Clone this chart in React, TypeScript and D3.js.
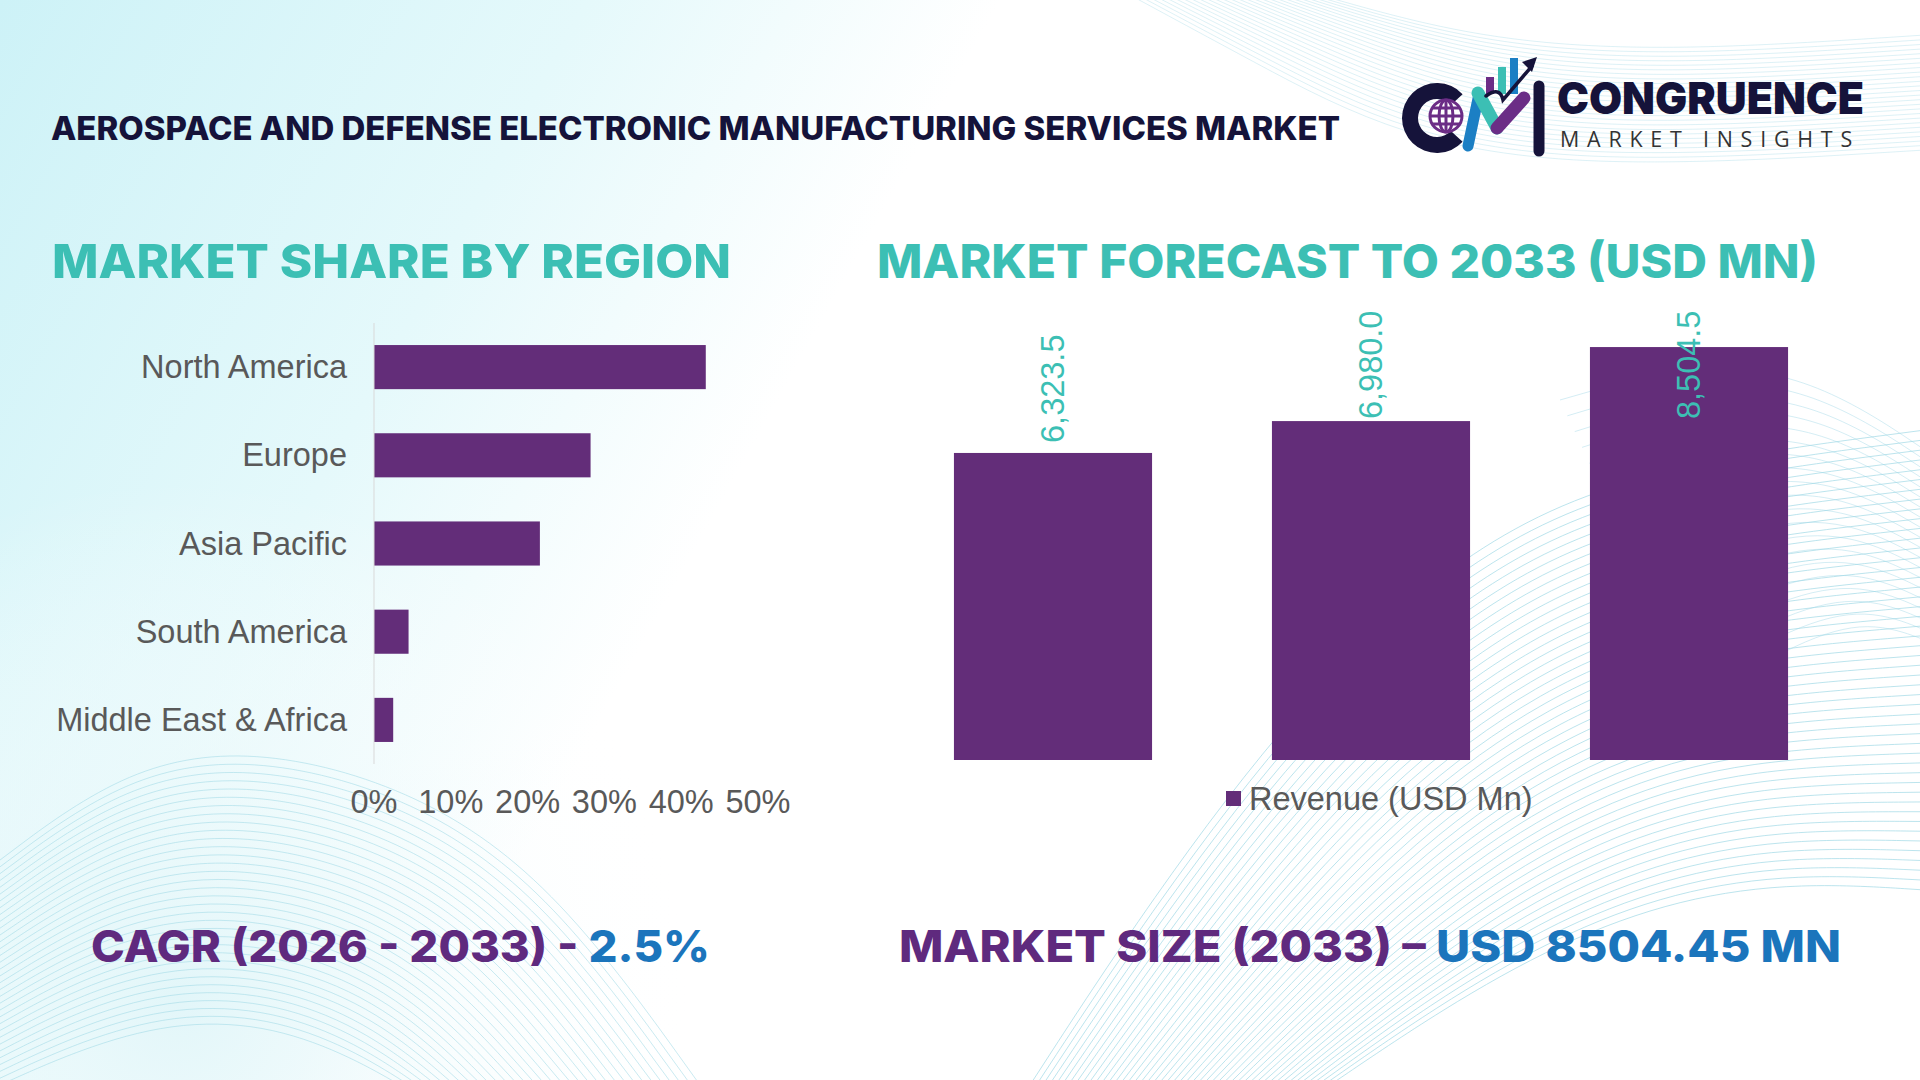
import React from "react";
import * as d3 from "d3";

// chart values
const regions = ["North America", "Europe", "Asia Pacific", "South America", "Middle East & Africa"];
const regionShare = [43.2, 28.2, 21.6, 4.5, 2.5];
const shareTicks = [0, 10, 20, 30, 40, 50];

const forecastYears = ["2025", "2026", "2033"];
const forecastRevenue = [6323.5, 6980.0, 8504.5];

const PURPLE = "#632d79";
const TEAL = "#3cbfb4";
const GRAY = "#595959";
const TITLE_PURPLE = "#5f2a7e";
const TITLE_BLUE = "#1b75bc";
const NAVY = "#15133a";

const W = 1920;
const H = 1080;

// decorative wave mesh: lines blended between two guide polylines
const waveFamilies = [
  {
    a: [[0, 860], [120, 770], [250, 745], [420, 790], [560, 890], [700, 1085]],
    b: [[0, 1085], [100, 1040], [220, 1010], [330, 1045], [400, 1085]],
    n: 34,
    op: 0.55,
  },
  {
    a: [[1030, 1085], [1150, 900], [1300, 700], [1450, 560], [1620, 470], [1925, 430]],
    b: [[1330, 1085], [1470, 990], [1620, 910], [1770, 880], [1925, 890]],
    n: 48,
    op: 0.7,
  },
  {
    a: [[1130, -5], [1250, 60], [1400, 140], [1600, 170], [1925, 150]],
    b: [[1320, -5], [1460, 35], [1620, 55], [1925, 35]],
    n: 26,
    op: 0.35,
  },
  {
    a: [[1560, 400], [1700, 360], [1820, 380], [1925, 450]],
    b: [[1700, 700], [1800, 640], [1870, 620], [1925, 640]],
    n: 20,
    op: 0.45,
  },
];

const blend = (a: number[][], b: number[][], t: number) => {
  const n = Math.max(a.length, b.length);
  const sa = d3.scaleLinear().domain([0, n - 1]).range([0, a.length - 1]);
  const sb = d3.scaleLinear().domain([0, n - 1]).range([0, b.length - 1]);
  const at = (arr: number[][], f: number) => {
    const i = Math.min(Math.floor(f), arr.length - 2);
    const r = f - i;
    return [arr[i][0] + (arr[i + 1][0] - arr[i][0]) * r, arr[i][1] + (arr[i + 1][1] - arr[i][1]) * r];
  };
  const pts = [];
  for (let j = 0; j < n; j++) {
    const p = at(a, sa(j));
    const q = at(b, sb(j));
    pts.push([p[0] + (q[0] - p[0]) * t, p[1] + (q[1] - p[1]) * t]);
  }
  return pts;
};

const Waves = () => {
  const line = d3.line().curve(d3.curveBasis);
  return (
    <g fill="none" stroke="#9fd8e6" strokeWidth={1}>
      {waveFamilies.map((f, fi) =>
        d3.range(f.n).map((i) => (
          <path key={fi + "-" + i} d={line(blend(f.a, f.b, i / (f.n - 1)) as any) || ""} opacity={f.op} />
        ))
      )}
    </g>
  );
};

const Logo = () => (
  <g>
    {/* C ring */}
    <path
      d={d3.arc()({ innerRadius: 19, outerRadius: 35, startAngle: 0.75, endAngle: Math.PI * 2 - 0.75 }) || ""}
      transform="translate(1437,118) rotate(90)"
      fill={NAVY}
    />
    {/* globe */}
    <g transform="translate(1446,116)" fill="none" stroke="#6b2d86" strokeWidth={3}>
      <circle r={16} fill="#ffffff" />
      <ellipse rx={7} ry={16} />
      <line x1={0} y1={-16} x2={0} y2={16} />
      <line x1={-16} y1={0} x2={16} y2={0} />
      <line x1={-14} y1={-8} x2={14} y2={-8} />
      <line x1={-14} y1={8} x2={14} y2={8} />
    </g>
    {/* bars */}
    <rect x={1486} y={77} width={8} height={17} fill="#6b2d86" />
    <rect x={1498} y={67} width={8} height={27} fill={TEAL} />
    <rect x={1510} y={58} width={8} height={36} fill="#1b7fc4" />
    {/* M */}
    <g strokeLinecap="round" fill="none">
      <line x1={1468} y1={146} x2={1479} y2={94} stroke="#1b7fc4" strokeWidth={11} />
      <line x1={1478} y1={93} x2={1497} y2={128} stroke={TEAL} strokeWidth={13} />
      <line x1={1497} y1={128} x2={1524} y2={98} stroke="#6b2d86" strokeWidth={13} />
      <line x1={1539} y1={86} x2={1539} y2={151} stroke={NAVY} strokeWidth={11} />
      <path d="M1486,96 Q1500,86 1503,100 L1532,66" stroke={NAVY} strokeWidth={3.5} />
    </g>
    <path d="M1537,57 L1522,62 L1532,72 Z" fill={NAVY} />
    <text
      x={1557}
      y={114}
      fontFamily="Inter, 'Open Sans', sans-serif"
      fontWeight={900}
      fontSize={44}
      fill={NAVY}
      textLength={307}
      lengthAdjust="spacingAndGlyphs"
    >
      CONGRUENCE
    </text>
    <text
      x={1560}
      y={147}
      fontFamily="'Open Sans', sans-serif"
      fontSize={22}
      fill="#333333"
      letterSpacing={8}
      textLength={300}
      lengthAdjust="spacingAndGlyphs"
    >
      MARKET INSIGHTS
    </text>
  </g>
);

export default function App() {
  // left: market share by region
  const xShare = d3.scaleLinear().domain([0, 50]).range([374, 758]);
  const yRegion = d3.scaleBand().domain(regions).range([323, 764]).paddingInner(0.5).paddingOuter(0.25);

  // right: forecast bars
  const xYear = d3.scaleBand().domain(forecastYears).range([894, 1848]).paddingInner(0.377).paddingOuter(0.1885);
  const yRev = d3.scaleLinear().domain([0, 9000]).range([760, 323]);
  const fmt = d3.format(",.1f");
  const labelLen = 108;
  const labelTop = 311;

  const headFont = "Inter, 'Open Sans', sans-serif";
  const bodyFont = "'Liberation Sans', Arial, sans-serif";
  const bodySize = 32.5;

  return (
    <svg
      width={W}
      height={H}
      viewBox={`0 0 ${W} ${H}`}
      style={{ position: "absolute", left: 0, top: 0, display: "block" }}
    >
      <defs>
        <linearGradient id="bg" x1="0" y1="0" x2="900" y2="500" gradientUnits="userSpaceOnUse">
          <stop offset="0" stopColor="#cdf2f7" />
          <stop offset="0.5" stopColor="#e5f9fb" />
          <stop offset="0.85" stopColor="#ffffff" />
        </linearGradient>
        <radialGradient id="bl" cx="180" cy="1000" r="520" gradientUnits="userSpaceOnUse">
          <stop offset="0" stopColor="#e2f6f9" />
          <stop offset="1" stopColor="#ffffff" stopOpacity="0" />
        </radialGradient>
      </defs>
      <rect width={W} height={H} fill="#ffffff" />
      <rect width={W} height={H} fill="url(#bg)" />
      <rect width={W} height={H} fill="url(#bl)" />
      <Waves />

      {/* header */}
      <text
        x={51}
        y={140}
        fontFamily={headFont}
        fontWeight={800}
        fontSize={32}
        fill={NAVY}
        textLength={1289}
        lengthAdjust="spacingAndGlyphs"
      >
        AEROSPACE AND DEFENSE ELECTRONIC MANUFACTURING SERVICES MARKET
      </text>
      <Logo />

      {/* section titles */}
      <text
        x={52}
        y={278}
        fontFamily={headFont}
        fontWeight={800}
        fontSize={47}
        fill={TEAL}
        textLength={679}
        lengthAdjust="spacingAndGlyphs"
      >
        MARKET SHARE BY REGION
      </text>
      <text
        x={877}
        y={278}
        fontFamily={headFont}
        fontWeight={800}
        fontSize={47}
        fill={TEAL}
        textLength={941}
        lengthAdjust="spacingAndGlyphs"
      >
        MARKET FORECAST TO 2033 (USD MN)
      </text>

      {/* region bars */}
      <g>
        {regions.map((r, i) => (
          <rect
            key={r}
            x={xShare(0)}
            y={yRegion(r)}
            width={xShare(regionShare[i]) - xShare(0)}
            height={yRegion.bandwidth()}
            fill={PURPLE}
          />
        ))}
        <line x1={xShare(0)} x2={xShare(0)} y1={323} y2={764} stroke="#d9d9d9" strokeWidth={1} />
        {regions.map((r) => (
          <text
            key={r}
            x={347}
            y={(yRegion(r) as number) + yRegion.bandwidth() / 2}
            dominantBaseline="central"
            textAnchor="end"
            fontFamily={bodyFont}
            fontSize={bodySize}
            fill={GRAY}
          >
            {r}
          </text>
        ))}
        {shareTicks.map((t) => (
          <text
            key={t}
            x={xShare(t)}
            y={802}
            dominantBaseline="central"
            textAnchor="middle"
            fontFamily={bodyFont}
            fontSize={bodySize}
            fill={GRAY}
          >
            {t + "%"}
          </text>
        ))}
      </g>

      {/* forecast bars */}
      <g>
        {forecastYears.map((yr, i) => (
          <rect
            key={yr}
            x={xYear(yr)}
            y={yRev(forecastRevenue[i])}
            width={xYear.bandwidth()}
            height={yRev(0) - yRev(forecastRevenue[i])}
            fill={PURPLE}
          />
        ))}
        {forecastYears.map((yr, i) => {
          const cx = (xYear(yr) as number) + xYear.bandwidth() / 2;
          const ay = Math.max(yRev(forecastRevenue[i]) - 10, labelTop + labelLen);
          return (
            <text
              key={yr}
              transform={`translate(${cx},${ay}) rotate(-90)`}
              dominantBaseline="central"
              textAnchor="start"
              fontFamily={bodyFont}
              fontSize={bodySize}
              fill={TEAL}
            >
              {fmt(forecastRevenue[i])}
            </text>
          );
        })}
        <rect x={1226} y={791} width={15} height={15} fill={PURPLE} />
        <text x={1249} y={799} dominantBaseline="central" fontFamily={bodyFont} fontSize={bodySize} fill={GRAY}>
          Revenue (USD Mn)
        </text>
      </g>

      {/* footer stats */}
      <text
        x={91}
        y={962}
        fontFamily={headFont}
        fontWeight={800}
        fontSize={44}
        fill={TITLE_PURPLE}
        textLength={619}
        lengthAdjust="spacingAndGlyphs"
      >
        CAGR (2026 - 2033) - <tspan fill={TITLE_BLUE}>2.5%</tspan>
      </text>
      <text
        x={899}
        y={962}
        fontFamily={headFont}
        fontWeight={800}
        fontSize={44}
        fill={TITLE_PURPLE}
        textLength={942}
        lengthAdjust="spacingAndGlyphs"
      >
        MARKET SIZE (2033) – <tspan fill={TITLE_BLUE}>USD 8504.45 MN</tspan>
      </text>
    </svg>
  );
}
